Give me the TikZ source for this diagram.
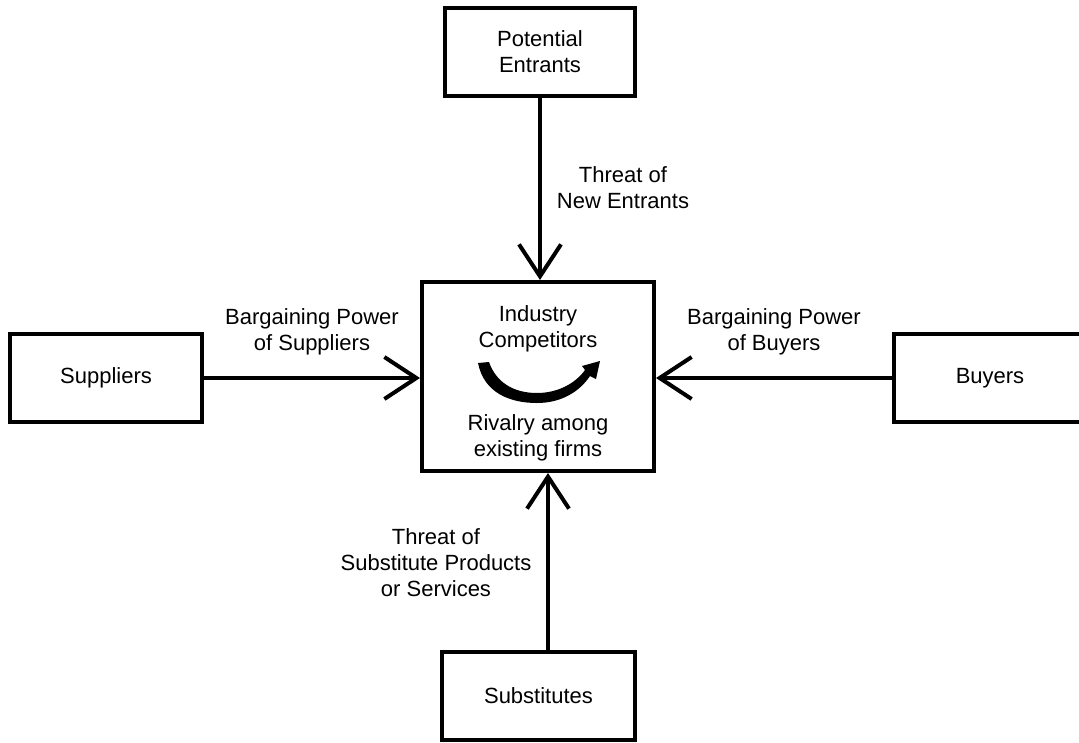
\documentclass[tikz,border=0pt]{standalone}
\usepackage{fontspec}
\setmainfont{Liberation Sans}
\usetikzlibrary{arrows.meta}
\begin{document}
\begin{tikzpicture}[x=1pt,y=-1pt,
  every node/.style={font=\fontsize{22}{26}\selectfont},
  box/.style={draw,line width=4pt,inner sep=0pt,align=center},
  lbl/.style={align=center,inner sep=0pt},
  force/.style={line width=4pt,-{Straight Barb[length=32pt,width=42pt]}}]
\useasboundingbox (0,0) rectangle (1079,742);
% boxes
\node[box,minimum width=190pt,minimum height=88pt] (pe) at (540,52) {Potential\\Entrants};
\node[box,minimum width=192pt,minimum height=88pt] (sup) at (106,378) {Suppliers};
\node[box,minimum width=192pt,minimum height=88pt] (buy) at (990,378) {Buyers};
\node[box,minimum width=232pt,minimum height=189pt] (ic) at (538,376.5) {};
\node[box,minimum width=193pt,minimum height=88pt] (sub) at (538.5,696) {Substitutes};
% texts inside the central box
\node[lbl] (ictop) at (538,329) {Industry\\Competitors};
\node[lbl] (icbot) at (538,438) {Rivalry among\\existing firms};
% rivalry arrow
\fill (478,363) .. controls (484,393) and (510,403) .. (537,403)
  .. controls (562,403) and (580,391) .. (590,376) -- (596,379) -- (600,361)
  -- (582,366) -- (585,370) .. controls (575,384) and (557,393) .. (537,393)
  .. controls (513,393) and (496,382) .. (489,362) -- cycle;
% force labels
\node[lbl] (lpe) at (623,188) {Threat of\\New Entrants};
\node[lbl] (lsup) at (312,332) {Bargaining Power\\of Suppliers};
\node[lbl] (lbuy) at (774,332) {Bargaining Power\\of Buyers};
\node[lbl] (lsub) at (436,563) {Threat of\\Substitute Products\\or Services};
% connectors
\coordinate (s0) at ([xshift=9.5pt]sub.north);
\draw[force] (pe.south) -- (pe.south |- ic.north);
\draw[force] (sup.east) -- (sup.east -| ic.west);
\draw[force] (buy.west) -- (buy.west -| ic.east);
\draw[force] (s0) -- (s0 |- ic.south);
\end{tikzpicture}
\end{document}
